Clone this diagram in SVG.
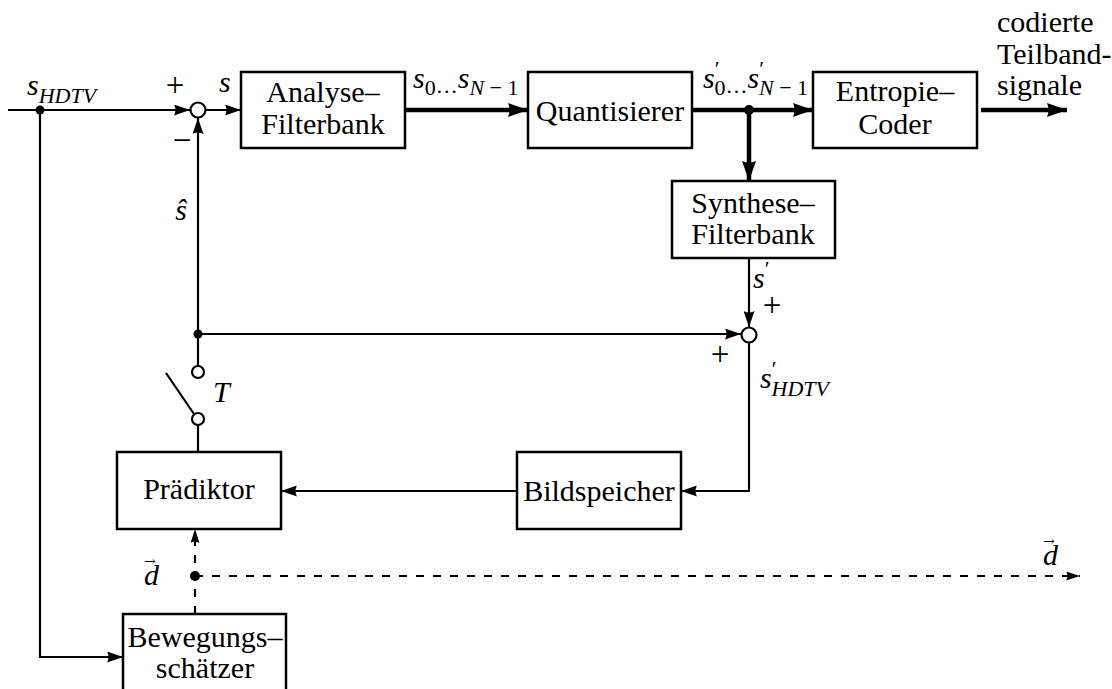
<svg xmlns="http://www.w3.org/2000/svg" width="1112" height="689" viewBox="0 0 1112 689">
<style>
text{font-family:"Liberation Serif","Times New Roman",serif;fill:#000}
.bt{font-size:30px;text-anchor:middle}
.it{font-style:italic}
.up{font-style:normal}
.lab{font-size:30px}
.sub{font-size:22px}
.sign{font-size:33px;text-anchor:middle}
.box{fill:#fff;stroke:#000;stroke-width:2.5}
.thin{fill:none;stroke:#000;stroke-width:2.2}
.thick{fill:none;stroke:#000;stroke-width:4.5}
.dash{fill:none;stroke:#000;stroke-width:2.2;stroke-dasharray:8 9}
.junc{fill:#000}
.ring{fill:#fff;stroke:#000;stroke-width:2.2}
.vec{font-family:"DejaVu Serif",serif;font-size:14px;font-style:normal}
</style>
<defs>
<marker id="a" markerUnits="userSpaceOnUse" markerWidth="16" markerHeight="11" viewBox="0 0 16 11" refX="16" refY="5.5" orient="auto"><path d="M0,0 L16,5.5 L0,11 Q3,5.5 0,0 z" fill="#000"/></marker>
<marker id="ab" markerUnits="userSpaceOnUse" markerWidth="20" markerHeight="14" viewBox="0 0 20 14" refX="20" refY="7" orient="auto"><path d="M0,0 L20,7 L0,14 Q3,7 0,0 z" fill="#000"/></marker>
<marker id="ad" markerUnits="userSpaceOnUse" markerWidth="14" markerHeight="9" viewBox="0 0 14 9" refX="14" refY="4.5" orient="auto"><path d="M0,0 L14,4.5 L0,9 Q3,4.5 0,0 z" fill="#000"/></marker>
</defs>

<g id="connectors">
<line class="thin" x1="8" y1="110" x2="190" y2="110" marker-end="url(#a)"/>
<line class="thin" x1="206" y1="110" x2="241" y2="110" marker-end="url(#a)"/>
<line class="thick" x1="405" y1="110" x2="528" y2="110" marker-end="url(#ab)"/>
<line class="thick" x1="692" y1="110" x2="813" y2="110" marker-end="url(#ab)"/>
<line class="thick" x1="749" y1="110" x2="749" y2="181" marker-end="url(#ab)"/>
<line class="thick" x1="981" y1="110" x2="1067" y2="110" marker-end="url(#ab)"/>
<line class="thin" x1="749" y1="258" x2="749" y2="327" marker-end="url(#a)"/>
<line class="thin" x1="198" y1="334" x2="741" y2="334" marker-end="url(#a)"/>
<polyline class="thin" points="749,342 749,491 681,491" marker-end="url(#a)"/>
<line class="thin" x1="517" y1="491" x2="281" y2="491" marker-end="url(#a)"/>
<line class="thin" x1="198" y1="366" x2="198" y2="118" marker-end="url(#a)"/>
<line class="thin" x1="198" y1="425" x2="198" y2="452"/>
<line class="thin" x1="166" y1="373" x2="194" y2="414"/>
<polyline class="thin" points="40,110 40,657 123,657" marker-end="url(#a)"/>
<line class="dash" x1="195" y1="614" x2="195" y2="529" marker-end="url(#ad)"/>
<line class="dash" x1="195" y1="576" x2="1080" y2="576" marker-end="url(#ad)"/>
<circle class="junc" cx="40" cy="110" r="4.5"/>
<circle class="junc" cx="749" cy="110" r="5"/>
<circle class="junc" cx="198" cy="334" r="4.5"/>
<circle class="junc" cx="195" cy="576" r="5"/>
</g>

<g id="sum1"><circle class="ring" cx="198" cy="110" r="7.5"/></g>
<g id="sum2"><circle class="ring" cx="749" cy="335" r="7.5"/></g>
<g id="switch">
<circle class="ring" cx="198" cy="372" r="6"/>
<circle class="ring" cx="198" cy="419" r="6"/>
</g>

<g id="analyse"><rect class="box" x="241" y="72" width="164" height="76"/>
<text class="bt" x="323" y="102">Analyse–</text><text class="bt" x="323" y="134">Filterbank</text></g>
<g id="quantisierer"><rect class="box" x="528" y="72" width="164" height="76"/>
<text class="bt" x="610" y="121">Quantisierer</text></g>
<g id="entropie"><rect class="box" x="813" y="72" width="164" height="76"/>
<text class="bt" x="895" y="101">Entropie–</text><text class="bt" x="895" y="134">Coder</text></g>
<g id="synthese"><rect class="box" x="672" y="181" width="163" height="77"/>
<text class="bt" x="753" y="213">Synthese–</text><text class="bt" x="753" y="244">Filterbank</text></g>
<g id="bildspeicher"><rect class="box" x="517" y="452" width="164" height="77"/>
<text class="bt" x="599" y="501">Bildspeicher</text></g>
<g id="praediktor"><rect class="box" x="117" y="452" width="164" height="77"/>
<text class="bt" x="199" y="499">Prädiktor</text></g>
<g id="bewegung"><rect class="box" x="123" y="614" width="163" height="90"/>
<text class="bt" x="205" y="647">Bewegungs–</text><text class="bt" x="205" y="678">schätzer</text></g>

<g id="labels">
<text class="lab it" x="27" y="95">s<tspan class="sub" dy="8">HDTV</tspan></text>
<text class="sign" x="175" y="96">+</text>
<text class="sign" x="182" y="151">−</text>
<text class="lab it" x="219" y="92">s</text>
<text class="lab it" x="181" y="220" text-anchor="middle">ŝ</text>
<text class="lab it" x="413" y="88">s<tspan class="sub up" dy="7">0</tspan><tspan class="sub up" dy="-2">…</tspan><tspan dy="-5">s</tspan><tspan class="sub" dy="7"><tspan class="it">N</tspan><tspan class="up"> − 1</tspan></tspan></text>
<text class="lab it" x="703" y="88">s<tspan class="sub up" dy="-12">′</tspan><tspan class="sub up" dx="-5" dy="19">0</tspan><tspan class="sub up" dy="-2">…</tspan><tspan dy="-5">s</tspan><tspan class="sub up" dy="-12">′</tspan><tspan class="sub" dx="-5" dy="19"><tspan class="it">N</tspan><tspan class="up"> − 1</tspan></tspan></text>
<text class="lab" x="997" y="32">codierte</text>
<text class="lab" x="997" y="64">Teilband-</text>
<text class="lab" x="997" y="95">signale</text>
<text class="lab it" x="753" y="288">s<tspan class="sub up" dy="-12">′</tspan></text>
<text class="sign" x="772" y="316">+</text>
<text class="sign" x="720" y="365">+</text>
<text class="lab it" x="760" y="388">s<tspan class="sub up" dy="-12">′</tspan><tspan class="sub" dx="-5" dy="20">HDTV</tspan></text>
<text class="lab it" x="213" y="402">T</text>
<text class="lab it" x="144" y="585">d<tspan class="vec" dx="-15" dy="-19">→</tspan></text>
<text class="lab it" x="1043" y="565">d<tspan class="vec" dx="-15" dy="-19">→</tspan></text>
</g>
</svg>
